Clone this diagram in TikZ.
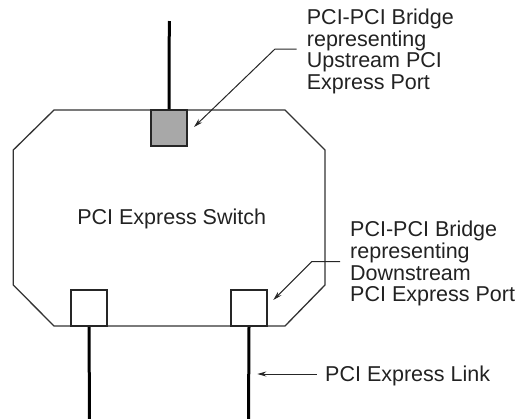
\documentclass[tikz,border=0pt]{standalone}
\usepackage{fontspec}
\setmainfont{Liberation Sans}
\usetikzlibrary{arrows.meta}
\definecolor{txt}{HTML}{222222}
\definecolor{boxgrey}{HTML}{A8A8A8}
\tikzset{
  lbl/.style={font=\fontsize{21.5}{21.7}\selectfont, text=txt, inner sep=0pt, align=left, anchor=base west},
  portbox/.style={draw=black!85, line width=2pt, minimum width=36pt, minimum height=36pt, inner sep=0pt},
  link/.style={line width=3pt, black},
  pointer/.style={line width=1pt, black!85, -{Stealth[length=9pt,width=5pt]}},
}
\begin{document}
\begin{tikzpicture}[x=1pt,y=-1pt]
\useasboundingbox (0,0) rectangle (519,418);
% switch outline
\draw[line width=1.3pt, black!80] (54,110) -- (285,110) -- (325,150) -- (325,285) -- (285,326) -- (54,326) -- (13.3,285) -- (13.3,150) -- cycle;
\node[font=\fontsize{21.5}{21.7}\selectfont, text=txt, inner sep=0pt] (sw) at (171.7,219.3) {PCI Express Switch};
% ports
\node[portbox, fill=boxgrey] (up) at (169,128) {};
\node[portbox, fill=white] (dl) at (89.2,308) {};
\node[portbox, fill=white] (dr) at (249,308) {};
% links
\coordinate (uptop) at (169.3,21);
\coordinate (dlbot) at (89.3,420);
\coordinate (drbot) at (248.5,420);
\draw[link] (uptop) -- (up.north);
\draw[link] (dl.south) -- (dlbot);
\draw[link] (dr.south) -- (drbot);
% labels (base anchor = baseline of last line)
\node[lbl] (t1) at (306.7,89.6) {PCI-PCI Bridge\\representing\\Upstream PCI\\Express Port};
\node[lbl] (t2) at (350,301.8) {PCI-PCI Bridge\\representing\\Downstream\\PCI Express Port};
\node[lbl] (t3) at (325,381.5) {PCI Express Link};
% pointers
\coordinate (a1s) at (296.7,49);
\coordinate (a1k) at (275,49);
\coordinate (a1e) at (194,127);
\draw[pointer] (a1s) -- (a1k) -- (a1e);
\coordinate (a2s) at (340,261.7);
\coordinate (a2k) at (311.7,261.7);
\coordinate (a2e) at (273.3,300);
\draw[pointer] (a2s) -- (a2k) -- (a2e);
\coordinate (a3s) at (316.7,374);
\coordinate (a3e) at (257.3,374);
\draw[pointer] (a3s) -- (a3e);
\end{tikzpicture}
\end{document}
